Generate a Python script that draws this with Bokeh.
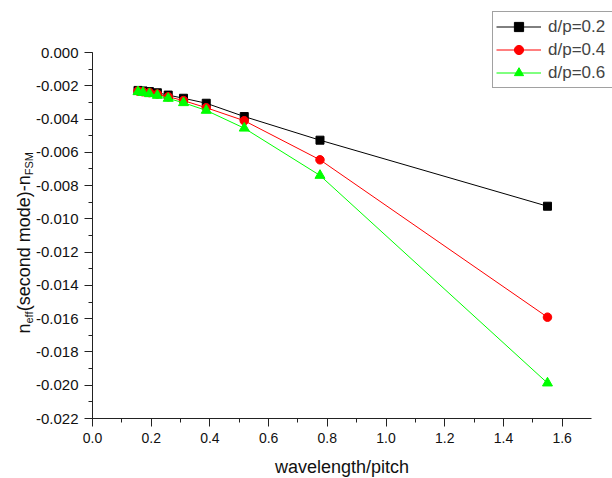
import math
from bokeh.plotting import figure
from bokeh.models import (Range1d, SingleIntervalTicker, Label, Legend, LegendItem,
                          LinearAxis, CustomJSTickFormatter)
from bokeh.embed import file_html
from bokeh.resources import INLINE

# ---- data ----
wavelength_pitch = [0.155, 0.172, 0.194, 0.221, 0.258, 0.31, 0.3875, 0.517, 0.775, 1.55]
dp_02 = [-0.00228, -0.00231, -0.00235, -0.00242, -0.00256, -0.00275, -0.00305, -0.00385, -0.00527, -0.00924]
dp_04 = [-0.00232, -0.00236, -0.00241, -0.00250, -0.00266, -0.00289, -0.00332, -0.00410, -0.00645, -0.01591]
dp_06 = [-0.00236, -0.00241, -0.00248, -0.00258, -0.00276, -0.00302, -0.00348, -0.00455, -0.00739, -0.01987]
series_labels = ["d/p=0.2", "d/p=0.4", "d/p=0.6"]
x_title = "wavelength/pitch"
y_title_parts = ["n", "eff", "(second mode)-n", "FSM"]
x_bounds = (0.0, 1.7)
y_bounds = (-0.022, 0.0)

FONT = "Liberation Sans"
W, H = 612, 478

# page-pixel placement of the axes (frame = whole canvas)
AX_LEFT, AX_RIGHT, AX_TOP, AX_BOTTOM = 92, 591, 52, 418
ppx = (AX_RIGHT - AX_LEFT) / (x_bounds[1] - x_bounds[0])
ppy = (AX_BOTTOM - AX_TOP) / (y_bounds[1] - y_bounds[0])
x_range = Range1d(x_bounds[0] - AX_LEFT / ppx, x_bounds[1] + (W - AX_RIGHT) / ppx)
y_range = Range1d(y_bounds[0] - (H - AX_BOTTOM) / ppy, y_bounds[1] + AX_TOP / ppy)

p = figure(width=W, height=H, output_backend="svg", toolbar_location=None,
           x_range=x_range, y_range=y_range, x_axis_location=None, y_axis_location=None,
           min_border=0)
p.outline_line_color = None
p.xgrid.visible = False
p.ygrid.visible = False
p.background_fill_color = "white"
p.border_fill_color = "white"

xaxis = LinearAxis(fixed_location=y_bounds[0], bounds=x_bounds,
                   ticker=SingleIntervalTicker(interval=0.2, num_minor_ticks=2),
                   formatter=CustomJSTickFormatter(code="return tick.toFixed(1);"))
yaxis = LinearAxis(fixed_location=x_bounds[0], bounds=y_bounds,
                   ticker=SingleIntervalTicker(interval=0.002, num_minor_ticks=2),
                   formatter=CustomJSTickFormatter(code="return tick.toFixed(3);"))
for ax in (xaxis, yaxis):
    ax.axis_line_color = "#222222"
    ax.major_tick_line_color = "#222222"
    ax.minor_tick_line_color = "#222222"
    ax.major_tick_out = 8
    ax.major_tick_in = 0
    ax.minor_tick_out = 4
    ax.minor_tick_in = 0
    ax.major_label_text_font = FONT
    ax.major_label_text_color = "#111111"
xaxis.major_label_text_font_size = "14px"
yaxis.major_label_text_font_size = "15px"
xaxis.major_label_standoff = 6
yaxis.major_label_standoff = 6
xaxis.axis_label = x_title
xaxis.axis_label_text_font = FONT
xaxis.axis_label_text_font_size = "18px"
xaxis.axis_label_text_font_style = "normal"
xaxis.axis_label_text_color = "#111111"
xaxis.axis_label_standoff = 11
p.add_layout(xaxis, "below")
p.add_layout(yaxis, "left")

colors = ["#000000", "#ff0000", "#00ff00"]
markers = ["square", "circle", "triangle"]
sizes = [8, 8.5, 10]
items = []
for ys, lab, c, m, s in zip([dp_02, dp_04, dp_06], series_labels, colors, markers, sizes):
    r1 = p.line(wavelength_pitch, ys, line_color=c, line_width=1)
    r2 = p.scatter(wavelength_pitch, ys, marker=m, size=s, fill_color=c, line_color=c)
    items.append(LegendItem(label=lab, renderers=[r1, r2]))

legend = Legend(items=items, location=(492, 390), padding=3, spacing=0, margin=0,
                label_height=23, glyph_height=23, glyph_width=45, label_standoff=7,
                label_width=90,
                label_text_font=FONT, label_text_font_size="17px",
                border_line_color="#444444", border_line_width=1.5,
                background_fill_color="white", background_fill_alpha=1.0)
legend.padding = 3
p.add_layout(legend)

# y-axis title built from pieces with subscripts
def ydata(page_y):
    return y_bounds[1] - (page_y - AX_TOP) / ppy
def xdata(page_x):
    return x_bounds[0] + (page_x - AX_LEFT) / ppx

starts = [333, 323, 310.8, 174.8]
is_sub = [False, True, False, True]
for txt, sy, sub in zip(y_title_parts, starts, is_sub):
    p.add_layout(Label(x=xdata(28.5 if sub else 23), y=ydata(sy), text=txt,
                       angle=math.pi / 2, text_align="left", text_baseline="alphabetic",
                       text_font=FONT, text_font_size="11px" if sub else "18px",
                       text_color="#111111"))

open("out.html", "w").write(file_html(p, INLINE))
